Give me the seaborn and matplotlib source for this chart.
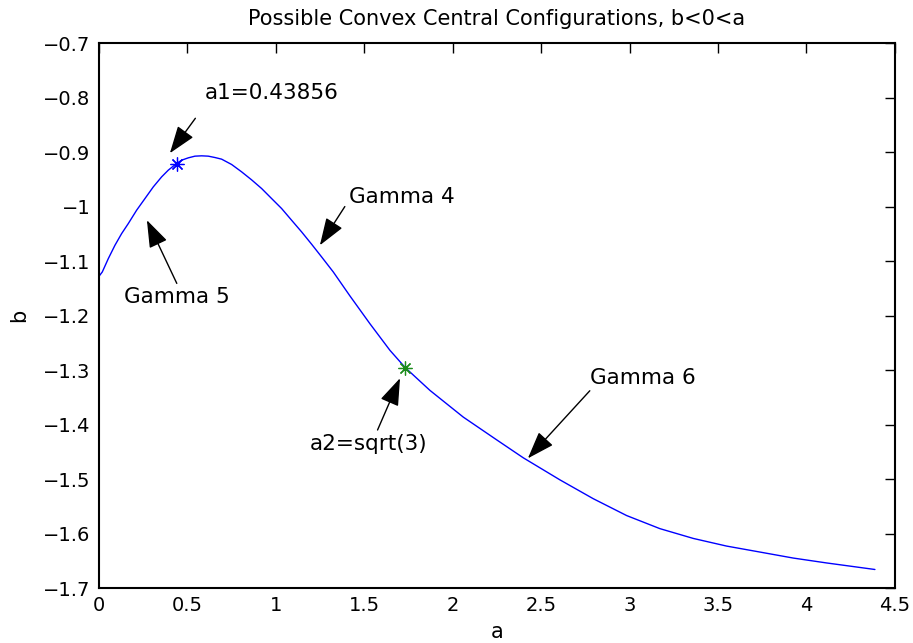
import numpy as np
import pandas as pd
import seaborn as sns
import matplotlib
matplotlib.use("Agg")
import matplotlib.pyplot as plt

# curve
a_vals = [0.0, 0.0188, 0.0528, 0.0904, 0.1281, 0.1658, 0.2129, 0.2600, 0.3071, 0.3543,
          0.3919, 0.43856, 0.4673, 0.5050, 0.5427, 0.5804, 0.6180, 0.6557, 0.6934, 0.7500,
          0.8065, 0.8630, 0.9196, 0.9761, 1.0326, 1.0891, 1.1457, 1.2022, 1.2587, 1.3247,
          1.4189, 1.5319, 1.6450, 1.7321, 1.8711, 2.0595, 2.2480, 2.3987, 2.6060, 2.7940,
          2.9830, 3.1710, 3.3600, 3.5480, 3.7370, 3.9250, 4.1140, 4.3870]
b_vals = [-1.128, -1.1200, -1.0955, -1.0710, -1.0496, -1.0312, -1.0067, -0.9853, -0.9639, -0.9455,
          -0.9332, -0.9210, -0.9149, -0.9106, -0.9075, -0.9069, -0.9075, -0.9100, -0.9130, -0.9228,
          -0.9363, -0.9510, -0.9669, -0.9853, -1.0036, -1.0251, -1.0465, -1.0691, -1.0924, -1.1200,
          -1.1640, -1.2150, -1.2638, -1.2957, -1.3373, -1.3863, -1.4280, -1.4610, -1.5015, -1.5360,
          -1.5670, -1.5910, -1.6090, -1.6230, -1.6340, -1.6450, -1.6540, -1.6660]

# special points
a1 = 0.43856
b1 = -0.921
a2 = np.sqrt(3)
b2 = -1.2957

# annotations: label, text position, arrow tail, arrow tip
ann_labels = ["a1=0.43856", "Gamma 4", "Gamma 5", "a2=sqrt(3)", "Gamma 6"]
ann_text_xy = [(0.60, -0.792), (1.413, -0.983), (0.44, -1.166), (1.525, -1.435), (2.776, -1.315)]
ann_ha = ["left", "left", "center", "center", "left"]
ann_tail = [(0.545, -0.838), (1.39, -1.000), (0.44, -1.141), (1.575, -1.410), (2.775, -1.338)]
ann_tip = [(0.401, -0.902), (1.249, -1.071), (0.271, -1.025), (1.702, -1.315), (2.425, -1.462)]

xticks = [0, 0.5, 1, 1.5, 2, 2.5, 3, 3.5, 4, 4.5]
yticks = [-1.7, -1.6, -1.5, -1.4, -1.3, -1.2, -1.1, -1, -0.9, -0.8, -0.7]

sns.set_style("white")
plt.rcParams['font.family'] = ['DejaVu Sans']
plt.rcParams['text.color'] = 'black'
plt.rcParams['axes.labelcolor'] = 'black'

fig = plt.figure(figsize=(9.13, 6.43), dpi=100)
ax = fig.add_axes([0.1084, 0.0855, 0.8718, 0.8475])

df = pd.DataFrame({"a": a_vals, "b": b_vals})
sns.lineplot(data=df, x="a", y="b", ax=ax, color="blue", linewidth=1.0, sort=False)

ax.plot([a1], [b1], linestyle="none", marker=(8, 2, 0), markersize=10,
        markeredgecolor="blue", markeredgewidth=0.9)
ax.plot([a2], [b2], linestyle="none", marker=(8, 2, 0), markersize=10,
        markeredgecolor="#1c8c1c", markeredgewidth=0.9)

for lab, txy, ha, tail, tip in zip(ann_labels, ann_text_xy, ann_ha, ann_tail, ann_tip):
    ax.text(txy[0], txy[1], lab, ha=ha, va="center", fontsize=15.5, color="black")
    ax.annotate("", xy=tip, xytext=tail,
                arrowprops=dict(arrowstyle="-|>,head_length=0.85,head_width=0.3",
                                color="black", lw=1.0, mutation_scale=20,
                                shrinkA=0, shrinkB=0))

ax.set_xlim(0, 4.5)
ax.set_ylim(-1.7, -0.7)
ax.set_xticks(xticks)
ax.set_xticklabels([("%g" % t) for t in xticks])
ax.set_yticks(yticks)
ax.set_yticklabels([("%g" % t).replace("-", "\u2212") for t in yticks])
ax.tick_params(direction="in", length=7, width=1, top=True, right=True,
               labelsize=14, colors="black", pad=6)
for sp in ax.spines.values():
    sp.set_visible(True)
    sp.set_color("black")
    sp.set_linewidth(1.5)

ax.set_xlabel("a", fontsize=15, labelpad=5, color="black")
ax.set_ylabel("b", fontsize=15, labelpad=10, color="black")
ax.set_title("Possible Convex Central Configurations, b<0<a", fontsize=15, pad=13,
             color="black")

fig.savefig("out.png", dpi=100)
